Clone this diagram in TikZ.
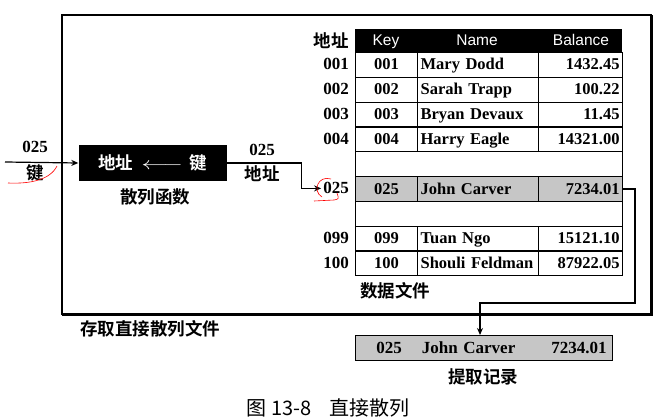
\documentclass[tikz,border=0pt]{standalone}
\usepackage{fontspec}
\setmainfont{Liberation Serif}
\newfontfamily\hdrfont{Liberation Sans}
\newfontfamily\cjk[BoldFont={Noto Sans CJK SC Bold}]{Noto Sans CJK SC}
\usetikzlibrary{arrows.meta,positioning,calc}

\begin{document}
\begin{tikzpicture}[x=1pt,y=-1pt,
  cell/.style={draw,line width=1.2pt,anchor=north west,minimum height=24.8pt,
    text height=12pt,text depth=2pt,inner ysep=0pt,inner xsep=3pt,
    font=\fontsize{16.5}{19}\selectfont\bfseries},
  keycell/.style={cell,text width=56pt,align=center},
  namecell/.style={cell,text width=115pt,align=left},
  balcell/.style={cell,text width=78pt,align=right},
  addr/.style={anchor=east,inner sep=2pt,font=\fontsize{17}{19}\selectfont\bfseries},
  num/.style={font=\fontsize{17}{19}\selectfont\bfseries},
  hdr/.style={text=white,text height=11pt,text depth=3pt,font=\hdrfont\fontsize{15.5}{17}\selectfont},
  zh/.style={font=\cjk\fontsize{17.5}{19}\selectfont\bfseries},
  conn/.style={line width=1.2pt,-{Stealth[length=7pt,width=6pt]}},
  redpen/.style={red,line width=0.6pt}]
  \useasboundingbox (0,0) rectangle (659,420);

  % outer frame
  \draw[line width=1.4pt] (62,15) rectangle (651,314);
  \draw[line width=3pt] (62,314) -- (651,314) -- (651,15);

  % data file
  \node[anchor=north west,fill=black,minimum width=267pt,minimum height=23pt,inner sep=0pt] (head) at (355,29) {};
  \node[hdr] (hkey) at (386,42) {Key};
  \node[hdr] (hname) at (477,42) {Name};
  \node[hdr] (hbal) at (581,42) {Balance};
  \node[addr,zh] (haddr) at (351,40.5) {地址};
  \foreach \y/\k/\n/\b in {52/001/Mary Dodd/1432.45,76.8/002/Sarah Trapp/100.22,
      101.6/003/Bryan Devaux/11.45,126.4/004/Harry Eagle/14321.00,
      225.6/099/Tuan Ngo/15121.10,250.4/100/Shouli Feldman/87922.05}{
    \node[keycell] (k\k) at (355,\y) {\k};
    \node[namecell] (n\k) at (417,\y) {\mbox{\n}};
    \node[balcell] (b\k) at (538,\y) {\b};
    \node[addr] (a\k) at (351,\y+12.4) {\k};
  }
  \node[cell,minimum width=267pt] (gap1) at (355,151.2) {};
  \node[cell,minimum width=267pt] (gap2) at (355,200.8) {};
  \node[keycell,fill=gray!45] (k025) at (355,176) {025};
  \node[namecell,fill=gray!45] (n025) at (417,176) {John Carver};
  \node[balcell,fill=gray!45] (b025) at (538,176) {7234.01};
  \node[addr] (a025) at (351,188.4) {025};
  \node[zh] (filelbl) at (395,291) {数据文件};

  % hash function
  \node[fill=black,text=white,minimum width=148pt,minimum height=36pt,zh] (hash) at (152.5,163)
    {地址\hspace{8pt}\scalebox{1.5}[1]{$\longleftarrow$}\hspace{6pt}键};
  \node[zh] (hashlbl) at (155,197) {散列函数};
  \coordinate (keyin) at (5,162);
  \draw[conn] (keyin) -- (hash.west);
  \node[num] (keyval) at (35,147) {025};
  \node[zh] (keylbl) at (35,173) {键};
  \draw[conn] (hash.east) -- ++(75,0) |- (a025.west);
  \node[num] (adval) at (262,150) {025};
  \node[zh] (adlbl) at (262,174) {地址};

  % fetched record
  \node[draw,fill=gray!45,line width=1.2pt,anchor=north west,minimum height=25pt,
    text width=245pt,inner xsep=6pt,inner ysep=0pt,align=right,num] (rec) at (355,335)
    {025\hspace{20pt}John Carver\hspace{36pt}7234.01};
  \coordinate (turn) at (635,303);
  \coordinate (drop) at (480,303);
  \draw[conn] (b025.east) -| (turn) -- (drop) -- (drop |- rec.north);
  \node[zh] (reclbl) at (483,377) {提取记录};
  \node[zh] (acclbl) at (150,329) {存取直接散列文件};

  \node[font=\cjk\fontsize{20}{22}\selectfont] (caption) at (328,408) {图 13-8\hspace{18pt}直接散列};

  % red pen marks
  \draw[redpen] (8,183) .. controls (30,184) and (50,180) .. (57,166);
  \draw[redpen] (331,179) .. controls (318,175) and (312,191) .. (322,197);
  \draw[redpen] (314,201) -- (334,200) .. controls (339,199) .. (337,193);
\end{tikzpicture}
\end{document}
